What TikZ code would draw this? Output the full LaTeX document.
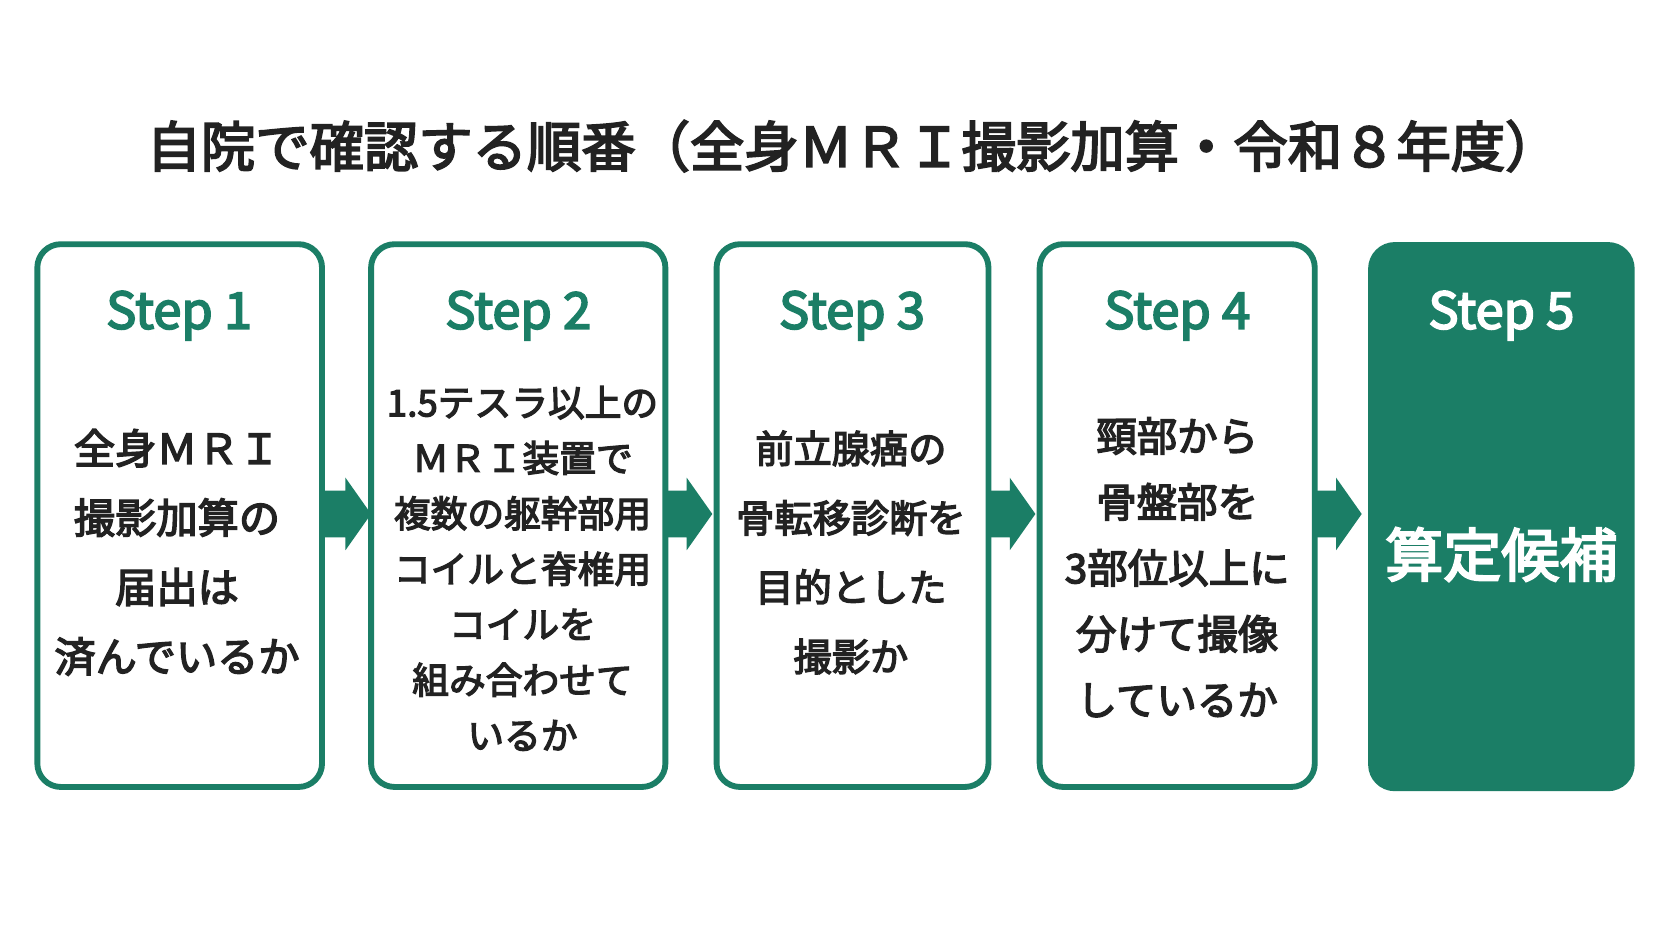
\documentclass[tikz,border=0pt]{standalone}
\usepackage{fontspec}
\setmainfont{Noto Sans CJK JP}
\newfontfamily\jp{Noto Sans CJK JP}[FakeBold=3.5]
\definecolor{grn}{HTML}{1B7E66}
\definecolor{txt}{HTML}{222222}
\begin{document}
\begin{tikzpicture}[x=0.1mm,y=-0.1mm,
  box/.style={draw=grn,line width=0.55mm,rounded corners=2.2mm},
  steplbl/.style={font=\jp\fontsize{13.5pt}{16pt}\selectfont,text=grn},
  body/.style={font=\jp\fontsize{11pt}{18.5pt}\selectfont,text=txt,align=center},
  arr/.style={fill=grn,draw=none}]
\useasboundingbox[fill=white] (0,0) rectangle (1568,882);
\node[font=\jp\fontsize{14.5pt}{16pt}\selectfont,text=txt] (title) at (800,137) {自院で確認する順番（全身ＭＲＩ撮影加算・令和８年度）};
\draw[box] (35,229) rectangle (302,738);
\draw[box] (348,229) rectangle (624,738);
\draw[box] (672,229) rectangle (927,738);
\draw[box] (975,229) rectangle (1233,738);
\fill[grn,rounded corners=2.5mm] (1283,227) rectangle (1533,742);
\node[steplbl] (s1) at (168,296) {Step 1};
\node[steplbl] (s2) at (486,296) {Step 2};
\node[steplbl] (s3) at (799,296) {Step 3};
\node[steplbl] (s4) at (1104,296) {Step 4};
\node[steplbl,text=white] (s5) at (1408,296) {Step 5};
\node[body] (t1) at (166,518) {全身ＭＲＩ\\撮影加算の\\届出は\\済んでいるか};
\node[body,font=\jp\fontsize{9.8pt}{14.8pt}\selectfont] (t2) at (490,533) {1.5テスラ以上の\\ＭＲＩ装置で\\複数の躯幹部用\\コイルと脊椎用\\コイルを\\組み合わせて\\いるか};
\node[body,font=\jp\fontsize{10.2pt}{18.5pt}\selectfont] (t3) at (798,518) {前立腺癌の\\骨転移診断を\\目的とした\\撮影か};
\node[body,font=\jp\fontsize{10.8pt}{17.6pt}\selectfont] (t4) at (1104,532) {頸部から\\骨盤部を\\3部位以上に\\分けて撮像\\しているか};
\node[font=\jp\fontsize{15.5pt}{20pt}\selectfont,text=white] (t5) at (1408,520) {算定候補};
\foreach \x in {304,624,927,1233}{
  \fill[arr] (\x,460) -- (\x+20,460) -- (\x+20,448) -- (\x+44,482) -- (\x+20,516) -- (\x+20,504) -- (\x,504) -- cycle;}
\end{tikzpicture}
\end{document}
